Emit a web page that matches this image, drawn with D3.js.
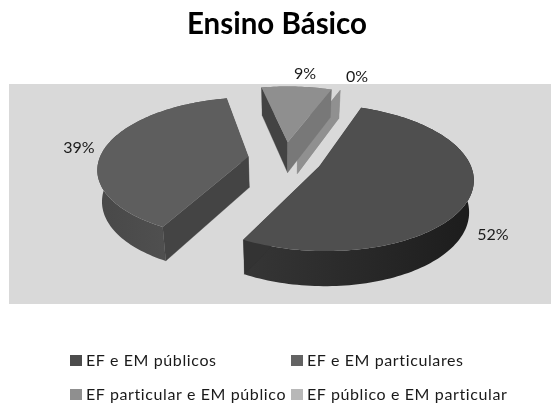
<!DOCTYPE html>
<html><head><meta charset="utf-8">
<script src="https://cdn.jsdelivr.net/npm/d3@7"></script>
<style>html,body{margin:0;padding:0;background:#fff}svg{display:block;filter:blur(.45px)}text{font-family:Lato,"Open Sans",sans-serif;fill:#1a1a1a}</style>
</head><body><svg id="c" width="551" height="407"></svg>
<script>
const categories = ["EF e EM públicos","EF e EM particulares","EF particular e EM público","EF público e EM particular"];
const values = [52,39,9,0];
const labels = ["52%","39%","9%","0%"];
const topColors = ["#4f4f4f","#5e5e5e","#8f8f8f","#b4b4b4"];
const legendColors = ["#4c4c4c","#636363","#8f8f8f","#b8b8b8"];
const rimColors = [["#363636","#1c1c1c"],["#484848","#565656"],["#707070","#808080"],["#909090","#909090"]];
const startWallColors = ["#333333","#444444","#434343","#909090"];
const endWallColors = ["#333333","#444444","#787878","#909090"];

const svg = d3.select("#c");
svg.append("rect").attr("x",9).attr("y",84).attr("width",542).attr("height",220).attr("fill","#d9d9d9");
svg.append("text").attr("x",277).attr("y",34).attr("text-anchor","middle")
  .attr("font-size",29.5).attr("font-weight",700).style("fill","#000").text("Ensino Básico");

const X0=285, Y0=159, R=149, S=.465, P=.155, H=31, SHRINK=.975, EXPLODE=.25;
const rotation = 20.5*Math.PI/180;
const arcs = d3.pie().sort(null).value(d=>d).startAngle(rotation).endAngle(rotation+2*Math.PI)(values);
const line = d3.line().x(d=>d[0]).y(d=>d[1]);
function proj(x,y,low){
  const k=1/(1-y*P), sh=low?SHRINK:1;
  return [X0+x*R*k*sh, Y0+y*R*S*k*sh+(low?H*k:0)];
}
const defs = svg.append("defs");
const order=[3,2,1,0];
order.forEach(i=>{
  const a=arcs[i], m=(a.startAngle+a.endAngle)/2;
  const ax=EXPLODE*Math.sin(m), ay=-EXPLODE*Math.cos(m);
  const n=Math.max(2,Math.ceil((a.endAngle-a.startAngle)*40));
  const ts=d3.range(n+1).map(j=>a.startAngle+(a.endAngle-a.startAngle)*j/n);
  const rim=ts.map(t=>[ax+Math.sin(t),ay-Math.cos(t)]);
  const g=svg.append("g");
  const wall=(p,q,c)=>g.append("path").attr("fill",c).attr("stroke",c).attr("stroke-width",.3)
    .attr("d",line([proj(...p),proj(...q),proj(...q,true),proj(...p,true)])+"Z");
  const up=rim.map(p=>proj(...p)), lo=rim.map(p=>proj(...p,true)).reverse();
  if(values[i]>0){
    const gid="rim"+i;
    const gr=defs.append("linearGradient").attr("id",gid).attr("gradientUnits","userSpaceOnUse")
      .attr("x1",d3.min(up,d=>d[0])).attr("x2",d3.max(up,d=>d[0])).attr("y1",0).attr("y2",0);
    gr.append("stop").attr("offset",0).attr("stop-color",rimColors[i][0]);
    gr.append("stop").attr("offset",1).attr("stop-color",rimColors[i][1]);
    g.append("path").attr("fill",`url(#${gid})`).attr("d",line(up.concat(lo))+"Z");
  }
  wall([ax,ay],rim[0],startWallColors[i]);
  wall([ax,ay],rim[n],endWallColors[i]);
  if(values[i]>0){
    g.append("path").attr("fill",topColors[i]).attr("d",line([proj(ax,ay)].concat(up))+"Z");
  }
});

const labelPos=[[493,240],[79,153],[305,79],[357,82]];
labels.forEach((t,i)=>svg.append("text").attr("x",labelPos[i][0]).attr("y",labelPos[i][1])
  .attr("text-anchor","middle").attr("font-size",16).text(t));

const legendPos=[[70,366],[291,366],[70,400],[291,400]];
categories.forEach((c,i)=>{
  const [x,y]=legendPos[i];
  svg.append("rect").attr("x",x).attr("y",y-11).attr("width",12).attr("height",11).attr("fill",legendColors[i]);
  svg.append("text").attr("x",x+16).attr("y",y).attr("font-size",16).attr("letter-spacing",.62).text(c);
});
</script></body></html>
